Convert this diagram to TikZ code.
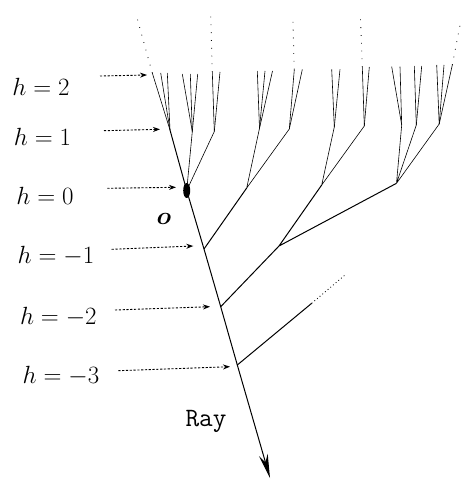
\documentclass[tikz,border=0pt]{standalone}
\usepackage{amsmath,amssymb}
\usetikzlibrary{arrows.meta}

\begin{document}
\begin{tikzpicture}[x=1pt,y=-1pt,>=Stealth,
  lvl/.style={font=\fontsize{26.5}{30}\selectfont},
  pointer/.style={->,dash pattern=on 2.2pt off 1.6pt,line width=0.9pt,>={Stealth[length=7pt,width=5pt]}},
  twig/.style={line width=0.6pt},
  limb/.style={line width=1pt},
  farther/.style={dash pattern=on 0.8pt off 7pt,line width=0.8pt}]
\useasboundingbox (0,0) rectangle (461,481);

% the ray
\coordinate (r3) at (136.5,16);
\coordinate (r2) at (152.3,73);
\coordinate (r1) at (170,130);
\coordinate (o) at (186.7,190.5);
\coordinate (a) at (204,249);
\coordinate (b) at (220.7,306.7);
\coordinate (c) at (237.3,365);
\coordinate (tip) at (270,478);
\draw[twig](r2)--(r1);
\draw[limb,-{Stealth[length=24pt,width=9pt]}](r1)--(o)--(a)--(b)--(c)--(tip);
\draw[farther](r2)--(r3);
\fill(o)ellipse[x radius=3.5pt,y radius=7.5pt];

% branches off the ray
\coordinate (o2) at (192.3,131.5);
\coordinate (o3) at (214.3,131.5);
\coordinate (p) at (246.7,188);
\coordinate (p1) at (259.5,128.3);
\coordinate (p2) at (289.3,129);
\coordinate (q) at (279,246);
\coordinate (q1) at (321.7,185);
\coordinate (q2) at (396.5,183.3);
\coordinate (q11) at (334.3,127);
\coordinate (q12) at (364.3,126);
\coordinate (q21) at (401.7,125);
\coordinate (q22) at (416.3,125);
\coordinate (q23) at (439.2,124);
\coordinate (s) at (311.7,303.3);
\coordinate (s1) at (345,275);
\draw[limb](a)--(p) (b)--(q)--(q1) (q)--(q2) (c)--(s);
\draw[dash pattern=on 0.9pt off 2.6pt,line width=0.8pt](s)--(s1);
\draw[twig](o)--(o2) (o)--(o3) (p)--(p1) (p)--(p2) (q1)--(q11) (q1)--(q12)
  (q2)--(q21) (q2)--(q22) (q2)--(q23);

% leaves at h = 2
\foreach \p/\x/\y [count=\i] in {r1/160.7/73, r1/167.3/73, o2/182.3/74, o2/190.3/74,
  o2/197.7/74, o3/212.3/72, o3/220/72, p1/257.3/71, p1/265/71, p1/272.5/71,
  p2/294.3/69.5, p2/302.3/69.5, q11/331.7/69.3, q11/340/69.3, q12/362.3/67,
  q12/369.3/67, q21/391.7/66.7, q21/400/66.7, q22/414.3/66, q22/421.7/66,
  q23/436.7/65, q23/444/65, q23/452.3/65}
  {\coordinate (leaf\i) at (\x,\y); \draw[twig](\p)--(leaf\i);}
\coordinate (up6) at (210.7,16.5);
\coordinate (up11) at (292.7,15);
\coordinate (up15) at (360.3,12.7);
\coordinate (up23) at (460.7,21.7);
\draw[farther](leaf6)--(up6) (leaf11)--(up11) (leaf15)--(up15) (leaf23)--(up23);

% levels
\node[lvl] (h2) at (41,86.5) {$h=2$};
\node[lvl] (h1) at (42.5,137) {$h=1$};
\node[lvl] (h0) at (45,196) {$h=0$};
\node[lvl] (hm1) at (56,256) {$h=-1$};
\node[lvl] (hm2) at (58.3,317) {$h=-2$};
\node[lvl] (hm3) at (61,376) {$h=-3$};
\node[lvl] (olbl) at (164,219) {$\boldsymbol{o}$};
\node[font=\ttfamily\fontsize{26.5}{30}\selectfont] (ray) at (206,421.5) {Ray};

\coordinate (s2) at (100,76);     \coordinate (e2) at (147,75);
\coordinate (s1) at (104,130.7);  \coordinate (e1) at (160,129.3);
\coordinate (s0) at (107.3,188.3);\coordinate (e0) at (176,187.3);
\coordinate (sm1) at (111.7,249.3);\coordinate (em1) at (193.3,246);
\coordinate (sm2) at (115,310);   \coordinate (em2) at (210,306.7);
\coordinate (sm3) at (118.3,370.7);\coordinate (em3) at (230,366.7);
\draw[pointer](s2)--(e2);
\draw[pointer](s1)--(e1);
\draw[pointer](s0)--(e0);
\draw[pointer](sm1)--(em1);
\draw[pointer](sm2)--(em2);
\draw[pointer](sm3)--(em3);
\end{tikzpicture}
\end{document}
